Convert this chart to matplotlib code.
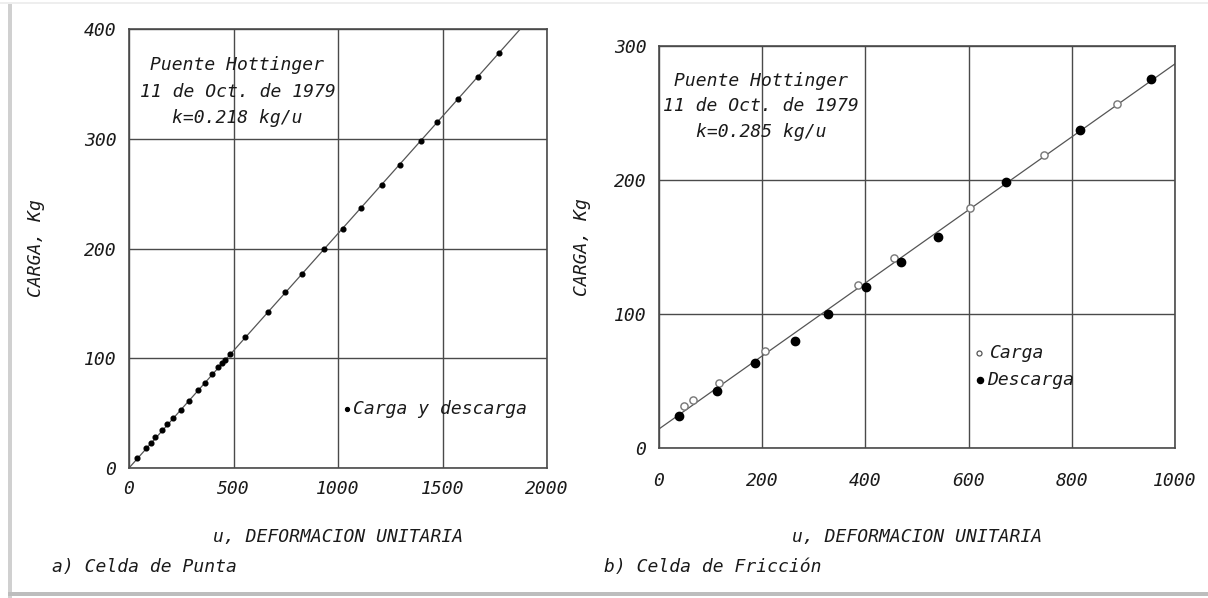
import numpy as np
import matplotlib
matplotlib.use('Agg')
import matplotlib.pyplot as plt
from matplotlib.patches import Rectangle

# Celda de punta: carga y descarga (deformacion unitaria, carga en kg)
punta_u = [40, 83, 106, 126, 159, 181, 211, 247, 288, 328, 365, 398, 425, 443,
           458, 485, 555, 663, 747, 826, 932, 1022, 1110, 1209, 1297, 1397,
           1476, 1573, 1672, 1771]
punta_carga = [8.8, 18.2, 23.0, 28.6, 34.6, 39.8, 45.9, 52.8, 61.3, 71.0, 77.7,
               85.6, 91.6, 95.4, 98.4, 104.0, 119.0, 141.9, 160.0, 176.8, 199.8,
               217.5, 237.0, 258.0, 276.4, 298.0, 315.6, 336.0, 356.6, 377.9]

# Celda de friccion
fric_carga_u = [48, 65, 117, 205, 386, 455, 602, 747, 888]
fric_carga_kg = [31.1, 35.8, 48.7, 72.4, 121.4, 142.0, 179.3, 218.9, 257.0]
fric_desc_u = [38, 113, 186, 263, 328, 401, 469, 540, 673, 816, 954]
fric_desc_kg = [23.9, 42.8, 63.2, 80.1, 100.0, 120.4, 138.6, 157.5, 198.5,
                237.3, 275.1]

titulo = 'Puente Hottinger\n11 de Oct. de 1979\n'
k_punta = 0.218
k_fric = 0.285

FONT = 'DejaVu Sans Mono'
FS = 13
TXT = '#1a1a1a'
GRID = '#4a4a4a'

fig = plt.figure(figsize=(12.08, 5.98), dpi=100)
W, H = 1208, 598


def px_axes(x0, y0, x1, y1):
    return fig.add_axes([x0 / W, 1 - y1 / H, (x1 - x0) / W, (y1 - y0) / H])


def style(ax, xt, yt):
    ax.set_xticks(xt)
    ax.set_yticks(yt)
    ax.grid(True, color=GRID, linewidth=1.0)
    ax.set_axisbelow(True)
    for s in ax.spines.values():
        s.set_color(GRID)
        s.set_linewidth(1.2)
    ax.tick_params(length=0, labelsize=FS, labelcolor=TXT)
    for lab in ax.get_xticklabels() + ax.get_yticklabels():
        lab.set_fontfamily(FONT)
        lab.set_fontstyle('italic')


def texto(ax, x, y, s, **kw):
    ax.text(x, y, s, family=FONT, style='italic', fontsize=FS, color=TXT, **kw)


# a) celda de punta
ax1 = px_axes(129, 29, 547, 468)
ax1.set_xlim(0, 2000)
ax1.set_ylim(0, 400)
style(ax1, [0, 500, 1000, 1500, 2000], [0, 100, 200, 300, 400])
ax1.tick_params(axis='x', pad=9)
ax1.tick_params(axis='y', pad=9)

pu = np.array(punta_u, dtype=float)
pc = np.array(punta_carga)
m1 = np.sum(pu * pc) / np.sum(pu * pu)   # recta por el origen
xl = np.array([0, 400 / m1])
ax1.plot(xl, m1 * xl, color='#555555', lw=0.9)
ax1.plot(pu, pc, 'o', color='black', ms=3.4, mec='black')

texto(ax1, 519, 343, titulo + 'k=%.3f kg/u' % k_punta, ha='center',
      va='center', linespacing=1.62)
ax1.plot([1044], [54], 'o', color='black', ms=2.8)
texto(ax1, 1072, 54, 'Carga y descarga', ha='left', va='center')
ax1.set_xlabel('u, DEFORMACION UNITARIA', family=FONT, style='italic',
               fontsize=FS, color=TXT)
ax1.xaxis.set_label_coords(0.5, -0.136)
ax1.set_ylabel('CARGA, Kg', family=FONT, style='italic', fontsize=FS, color=TXT)
ax1.yaxis.set_label_coords(-0.2, 0.5)

# b) celda de friccion
ax2 = px_axes(659, 46, 1175, 448)
ax2.set_xlim(0, 1000)
ax2.set_ylim(0, 300)
style(ax2, [0, 200, 400, 600, 800, 1000], [0, 100, 200, 300])
ax2.tick_params(axis='x', pad=17)
ax2.tick_params(axis='y', pad=9)

allu = np.array(fric_carga_u + fric_desc_u, dtype=float)
allk = np.array(fric_carga_kg + fric_desc_kg)
m2, b2 = np.polyfit(allu, allk, 1)
xl2 = np.array([0, 1000])
ax2.plot(xl2, m2 * xl2 + b2, color='#555555', lw=0.9)
ax2.plot(fric_carga_u, fric_carga_kg, 'o', mfc='white', mec='#777777',
         mew=1.0, ms=5.2)
ax2.plot(fric_desc_u, fric_desc_kg, 'o', color='black', ms=6)

texto(ax2, 198, 255, titulo + 'k=%.3f kg/u' % k_fric, ha='center',
      va='center', linespacing=1.55)
ax2.plot([620], [70.7], 'o', mfc='white', mec='#555555', mew=0.9, ms=3.6)
ax2.plot([622], [50.7], 'o', color='black', ms=4.4)
texto(ax2, 641, 70.7, 'Carga', ha='left', va='center')
texto(ax2, 635, 50.7, 'Descarga', ha='left', va='center')
ax2.set_xlabel('u, DEFORMACION UNITARIA', family=FONT, style='italic',
               fontsize=FS, color=TXT)
ax2.xaxis.set_label_coords(0.5, -0.199)
ax2.set_ylabel('CARGA, Kg', family=FONT, style='italic', fontsize=FS, color=TXT)
ax2.yaxis.set_label_coords(-0.132, 0.5)

fig.text(52 / W, 1 - 567 / H, 'a) Celda de Punta', ha='left', va='center',
         family=FONT, style='italic', fontsize=FS, color=TXT)
fig.text(604 / W, 1 - 567 / H, 'b) Celda de Fricción', ha='left', va='center',
         family=FONT, style='italic', fontsize=FS, color=TXT)

# marco con sombra alrededor de la figura
fig.patches.append(Rectangle((0, 1 - 4 / H), 1, 1.5 / H, transform=fig.transFigure,
                             color='#eeeeee', lw=0))
fig.patches.append(Rectangle((8 / W, 0), 4 / W, 1 - 4 / H, transform=fig.transFigure,
                             color='#d0d0d0', lw=0))
fig.patches.append(Rectangle((8 / W, 2 / H), 1, 4 / H, transform=fig.transFigure,
                             color='#bdbdbd', lw=0))

fig.savefig('out.png', dpi=100)
